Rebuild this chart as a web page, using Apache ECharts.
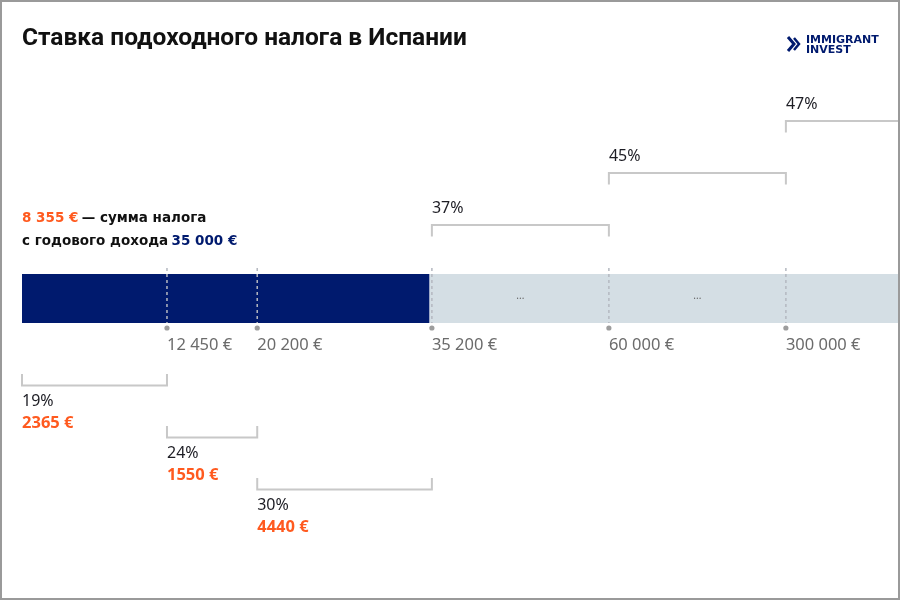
<!DOCTYPE html>
<html>
<head>
<meta charset="utf-8">
<script src="https://cdn.jsdelivr.net/npm/echarts@6/dist/echarts.min.js"></script>
<style>
  html, body { margin: 0; padding: 0; background: #fff; }
  #chart { width: 900px; height: 600px; }
</style>
</head>
<body>
<div id="chart"></div>
<script>
// ---------------- DATA ----------------
const breakpoints = [0, 12450, 20200, 35200, 60000, 300000];   // income brackets, €
const rates = ['19%', '24%', '30%', '37%', '45%', '47%'];
const taxAmounts = [2365, 1550, 4440, null, null, null];          // tax paid per bracket, €
const tickLabels = ['12 450 €', '20 200 €', '35 200 €', '60 000 €', '300 000 €'];
const annualIncome = 35000;
const totalTax = 8355;
const titleText = 'Ставка подоходного налога в Испании';

// ---------------- STYLE / LAYOUT ----------------
const NAVY = '#001A6E', ORANGE = '#FF5A1F', LIGHT = '#D4DEE4', GREY_TXT = '#6b6b6b', DARK = '#1d1d24';
const LINEAR_LIMIT = 35200;      // scale is linear up to here
const COMPRESSED_STEP = 15200;   // display width of each higher bracket
const AXIS_MAX = 75400;          // display-unit width of plot
const FONT = '"Noto Sans", sans-serif';
const ANN_FONT = 'bold 13.5px "DejaVu Sans", sans-serif';

// broken-scale mapping: linear to 35 200 €, then equal-width brackets
function displayPos(v) {
  if (v <= LINEAR_LIMIT) return v;
  let pos = LINEAR_LIMIT;
  for (let i = 0; i < breakpoints.length - 1; i++) {
    const a = breakpoints[i], b = breakpoints[i + 1];
    if (a < LINEAR_LIMIT) continue;
    if (v <= b) return pos + (v - a) / (b - a) * COMPRESSED_STEP;
    pos += COMPRESSED_STEP;
  }
  return Math.min(AXIS_MAX, pos);
}
function fmt(n) { return String(n).replace(/\B(?=(\d{3})+(?!\d))/g, ' '); }

// ---------------- SERIES DATA ----------------
const barData = [
  [0, displayPos(annualIncome), 'paid'],
  [displayPos(annualIncome), AXIS_MAX, 'rest']
];
const ellipsisData = [];
for (let i = 0; i < breakpoints.length - 1; i++) {
  if (breakpoints[i] >= LINEAR_LIMIT) ellipsisData.push([(displayPos(breakpoints[i]) + displayPos(breakpoints[i + 1])) / 2]);
}
const markerData = breakpoints.slice(1).map((b, i) => [displayPos(b), tickLabels[i]]);
const bracketData = rates.map((r, i) => {
  const s = displayPos(breakpoints[i]);
  const e = i + 1 < breakpoints.length ? displayPos(breakpoints[i + 1]) : AXIS_MAX;
  return [s, e, r, taxAmounts[i], i];
});

const BAR_TOP = 274, BAR_BOTTOM = 323;

const chart = echarts.init(document.getElementById('chart'));
chart.setOption({
  backgroundColor: '#fff',
  animation: false,
  title: {
    text: titleText, left: 22, top: 26, padding: 0,
    textStyle: { fontFamily: 'Roboto, sans-serif', fontWeight: 'bold', fontSize: 24.5, color: '#111' }
  },
  grid: { left: 22, right: 0, top: 0, bottom: 0 },
  xAxis: { type: 'value', min: 0, max: AXIS_MAX, show: false },
  yAxis: { type: 'value', min: 0, max: 600, inverse: true, show: false },
  graphic: [
    { type: 'rect', shape: { x: 1, y: 1, width: 898, height: 598 }, style: { fill: 'none', stroke: '#9a9a9a', lineWidth: 2 }, z: 100 },
    { type: 'polyline', shape: { points: [[788, 37], [794, 44], [788, 51]] }, style: { stroke: NAVY, lineWidth: 3, fill: 'none' } },
    { type: 'polyline', shape: { points: [[794, 38], [799, 44], [794, 50]] }, style: { stroke: NAVY, lineWidth: 2.5, fill: 'none' } },
    { type: 'text', x: 806, y: 40, style: { text: 'IMMIGRANT', font: 'bold 11px "DejaVu Sans", sans-serif', fill: NAVY, verticalAlign: 'middle' } },
    { type: 'text', x: 806, y: 50, style: { text: 'INVEST', font: 'bold 11px "DejaVu Sans", sans-serif', fill: NAVY, verticalAlign: 'middle' } },
    { type: 'text', x: 22, y: 218, style: {
        text: '{o|' + fmt(totalTax) + ' €} {b|— сумма налога}',
        verticalAlign: 'middle',
        rich: {
          o: { font: ANN_FONT, fill: ORANGE },
          b: { font: ANN_FONT, fill: '#111' }
        } } },
    { type: 'text', x: 22, y: 241, style: {
        text: '{b|с годового дохода} {n|' + fmt(annualIncome) + ' €}',
        verticalAlign: 'middle',
        rich: {
          n: { font: ANN_FONT, fill: NAVY },
          b: { font: ANN_FONT, fill: '#111' }
        } } }
  ],
  series: [
    {
      type: 'custom', name: 'bar', data: barData, encode: { x: [0, 1] },
      renderItem: function (params, api) {
        const p0 = api.coord([api.value(0), BAR_TOP]);
        const p1 = api.coord([api.value(1), BAR_BOTTOM]);
        const kind = barData[params.dataIndex][2];
        return { type: 'rect', shape: { x: p0[0], y: p0[1], width: p1[0] - p0[0], height: p1[1] - p0[1] },
                 style: { fill: kind === 'paid' ? NAVY : LIGHT } };
      }
    },
    {
      type: 'custom', name: 'ellipsis', data: ellipsisData, encode: { x: 0 },
      renderItem: function (params, api) {
        const p = api.coord([api.value(0), (BAR_TOP + BAR_BOTTOM) / 2]);
        return { type: 'text', style: { text: '...', x: p[0], y: p[1] - 2, align: 'center', verticalAlign: 'middle', font: '10px ' + FONT, fill: '#666' } };
      }
    },
    {
      type: 'custom', name: 'markers', data: markerData, encode: { x: 0 }, z: 3,
      renderItem: function (params, api) {
        const x = api.coord([api.value(0), 0])[0];
        const yTop = api.coord([0, 268])[1], yBot = api.coord([0, BAR_BOTTOM])[1];
        const yDot = api.coord([0, 328])[1], yLbl = api.coord([0, 345])[1];
        return { type: 'group', children: [
          { type: 'line', shape: { x1: x, y1: yTop, x2: x, y2: yBot }, style: { stroke: '#b4b8c0', lineWidth: 1.5, lineDash: [3, 3] } },
          { type: 'circle', shape: { cx: x, cy: yDot, r: 2.6 }, style: { fill: '#9d9d9d' } },
          { type: 'text', style: { text: markerData[params.dataIndex][1], x: x, y: yLbl, align: 'left', verticalAlign: 'middle', font: '16.5px ' + FONT, fill: GREY_TXT } }
        ] };
      }
    },
    {
      type: 'custom', name: 'brackets', data: bracketData, encode: { x: [0, 1] },
      renderItem: function (params, api) {
        const d = bracketData[params.dataIndex];
        const xs = api.coord([d[0], 0])[0], xe = api.coord([d[1], 0])[0];
        const i = d[4];
        const bStroke = { stroke: '#c8c8c8', lineWidth: 2, fill: 'none' };
        const children = [];
        if (d[3] !== null) {
          // below the bar, stepping down
          const k = i;
          const yTop = 374 + 52 * k, yLine = 385.5 + 52 * k;
          children.push({ type: 'polyline', shape: { points: [[xs, api.coord([0, yTop])[1]], [xs, api.coord([0, yLine])[1]], [xe, api.coord([0, yLine])[1]], [xe, api.coord([0, yTop])[1]]] }, style: bStroke });
          children.push({ type: 'text', style: { text: d[2], x: xs, y: api.coord([0, 401 + 52 * k])[1], align: 'left', verticalAlign: 'middle', font: '16px ' + FONT, fill: DARK } });
          children.push({ type: 'text', style: { text: d[3] + ' €', x: xs, y: api.coord([0, 423 + 52 * k])[1], align: 'left', verticalAlign: 'middle', font: 'bold 16.5px ' + FONT, fill: ORANGE } });
        } else {
          // above the bar, stepping up
          const k = i - 3;
          const yLine = 225 - 52 * k, yBot = 236.5 - 52 * k;
          const pts = [[xs, api.coord([0, yBot])[1]], [xs, api.coord([0, yLine])[1]], [xe, api.coord([0, yLine])[1]]];
          if (d[1] < AXIS_MAX) pts.push([xe, api.coord([0, yBot])[1]]);
          children.push({ type: 'polyline', shape: { points: pts }, style: bStroke });
          children.push({ type: 'text', style: { text: d[2], x: xs, y: api.coord([0, 208 - 52 * k])[1], align: 'left', verticalAlign: 'middle', font: '16px ' + FONT, fill: DARK } });
        }
        return { type: 'group', children: children };
      }
    }
  ]
});
</script>
</body>
</html>
